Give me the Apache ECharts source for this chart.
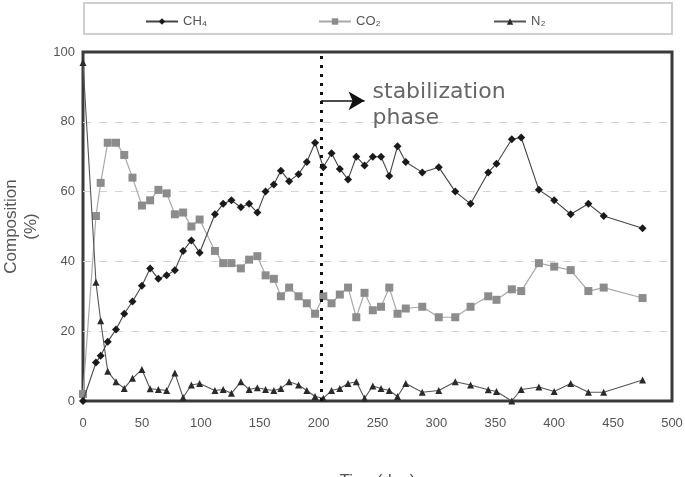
<!DOCTYPE html>
<html>
<head>
<meta charset="utf-8">
<script src="https://cdn.jsdelivr.net/npm/echarts@6/dist/echarts.min.js"></script>
<style>
  html, body { margin: 0; padding: 0; background: #fff; }
  #chart { width: 685px; height: 477px; }
</style>
</head>
<body>
<div id="chart"></div>
<script>
// sampling days (shared by the three gases)
const days = [0, 11, 15, 21, 28, 35, 42, 50, 57, 64, 71, 78, 85, 92, 99, 112, 119, 126, 134, 141,
  148, 155, 162, 168, 175, 183, 190, 197, 204, 211, 218, 225, 232, 239, 246, 253, 260, 267, 274, 288,
  302, 316, 329, 344, 351, 364, 372, 387, 400, 414, 429, 442, 475];

const ch4 = [0, 11, 13, 17, 20.5, 25, 28.5, 33, 38, 35, 36, 37.5, 43, 46, 42.5, 53.5, 56.5, 57.5, 55.5, 56.5,
  54, 60, 62, 66, 63, 65, 68.5, 74, 67, 71, 66.5, 63.5, 70, 67.5, 70, 70, 64.5, 73, 68.5, 65.5,
  67, 60, 56.5, 65.5, 68, 75, 75.5, 60.5, 57.5, 53.5, 56.5, 53, 49.5];

const co2 = [2, 53, 62.5, 74, 74, 70.5, 64, 56, 57.5, 60.5, 59.5, 53.5, 54, 50, 52, 43, 39.5, 39.5, 38, 40.5,
  41.5, 36, 35, 30, 32.5, 30, 28, 25, 30, 28, 30.5, 32.5, 24, 31, 26, 27, 32.5, 25, 26.5, 27,
  24, 24, 27, 30, 29, 32, 31.5, 39.5, 38.5, 37.5, 31.5, 32.5, 29.5];

const n2 = [97, 34, 23, 8.5, 5.5, 3.6, 6.5, 9, 3.5, 3.3, 3, 8, 1, 4.6, 5, 3, 3.3, 2.2, 5.5, 3.3,
  3.8, 3.3, 3, 3.6, 5.5, 4.6, 3, 1.3, 0.8, 3, 3.6, 5, 5.5, 0.8, 4.3, 3.6, 3, 1.3, 5, 2.5,
  3, 5.5, 4.6, 3.2, 2.7, 0, 3.3, 4, 2.7, 5, 2.5, 2.5, 6];

const seriesNames = ['CH\u2084', 'CO\u2082', 'N\u2082'];
const phaseStart = 202;   // stabilization phase starts (day)
const arrowEnd = 239;     // arrow tip (day)
const arrowLevel = 86;    // arrow height (%)

const toPairs = (vals) => vals.map((v, i) => [days[i], v]);

const font = 'Liberation Sans, Arial, sans-serif';
const chart = echarts.init(document.getElementById('chart'));

const legendBase = {
  top: 10,
  itemWidth: 32,
  itemHeight: 8,
  itemGap: 4,
  textStyle: { color: '#555', fontSize: 13, fontFamily: font }
};

chart.setOption({
  animation: false,
  backgroundColor: '#fff',
  grid: {
    left: 83, top: 52, width: 589, height: 349,
    outerBoundsMode: 'none', containLabel: false,
    show: true, borderColor: '#3a3a3a', borderWidth: 3
  },
  legend: [
    { ...legendBase, left: 140, data: [seriesNames[0]] },
    { ...legendBase, left: 313, data: [seriesNames[1]] },
    { ...legendBase, left: 488, data: [seriesNames[2]] }
  ],
  xAxis: {
    type: 'value', min: 0, max: 500, interval: 50,
    name: 'Time(day)', nameLocation: 'middle', nameGap: 72,
    nameTextStyle: { color: '#555', fontSize: 17, fontFamily: font },
    axisLine: { show: false }, axisTick: { show: false },
    axisLabel: { color: '#555', fontSize: 13, fontFamily: font, margin: 16 },
    splitLine: { show: false }
  },
  yAxis: {
    type: 'value', min: 0, max: 100, interval: 20,
    name: 'Composition\n(%)', nameLocation: 'middle', nameGap: 42, nameRotate: 90,
    nameTextStyle: { color: '#555', fontSize: 17, fontFamily: font, lineHeight: 20 },
    axisLine: { show: false }, axisTick: { show: false },
    axisLabel: { color: '#555', fontSize: 13, fontFamily: font, margin: 8 },
    splitLine: {
      show: true, showMinLine: false, showMaxLine: false,
      lineStyle: { color: '#d4d4d4', type: [8, 8], width: 1 }
    }
  },
  series: [
    {
      name: seriesNames[1], type: 'line', data: toPairs(co2),
      symbol: 'rect', symbolSize: 8,
      itemStyle: { color: '#8c8c8c' },
      lineStyle: { color: '#a8a8a8', width: 1.2 },
      z: 2
    },
    {
      name: seriesNames[2], type: 'line', data: toPairs(n2),
      symbol: 'triangle', symbolSize: 7,
      itemStyle: { color: '#2a2a2a' },
      lineStyle: { color: '#555', width: 1.1 },
      z: 3
    },
    {
      name: seriesNames[0], type: 'line', data: toPairs(ch4),
      symbol: 'diamond', symbolSize: 8,
      itemStyle: { color: '#1a1a1a' },
      lineStyle: { color: '#444', width: 1.1 },
      z: 4,
      markLine: {
        silent: true,
        label: { show: false },
        data: [
          {
            xAxis: phaseStart, symbol: 'none',
            lineStyle: { color: '#111', type: [3, 6], width: 3 }
          },
          [
            { coord: [phaseStart, arrowLevel], symbol: 'none' },
            { coord: [arrowEnd, arrowLevel], symbol: 'arrow', symbolSize: [14, 16],
              lineStyle: { color: '#111', type: 'solid', width: 1.5 } }
          ]
        ],
        symbol: ['none', 'none'],
        lineStyle: { color: '#111', type: 'solid', width: 1.5 }
      }
    }
  ]
});

// annotation text and legend frame
const tip = chart.convertToPixel({ gridIndex: 0 }, [arrowEnd, arrowLevel]);
chart.setOption({
  graphic: [
    {
      type: 'rect', shape: { x: 84, y: 3, width: 588, height: 31 },
      style: { fill: 'none', stroke: '#cfcfcf', lineWidth: 2 }, silent: true
    },
    {
      type: 'text', x: tip[0] + 8, y: tip[1] - 22,
      style: {
        text: 'stabilization\nphase', fill: '#666',
        font: '22px "DejaVu Sans", sans-serif', lineHeight: 26
      }
    }
  ]
});
</script>
</body>
</html>
